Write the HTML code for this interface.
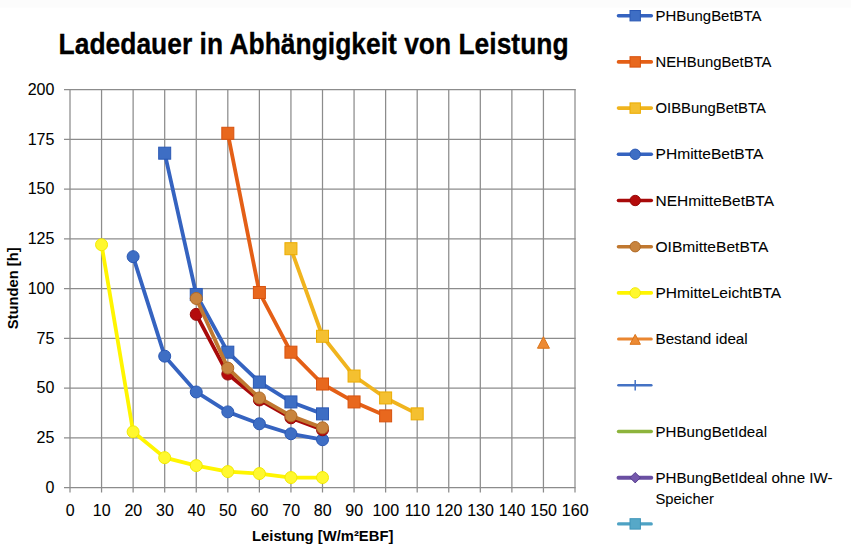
<!DOCTYPE html>
<html><head><meta charset="utf-8"><title>Ladedauer in Abhängigkeit von Leistung</title>
<style>html,body{margin:0;padding:0;background:#fff;width:851px;height:549px;overflow:hidden}svg{display:block;font-family:"Liberation Sans",sans-serif}</style>
</head><body>
<svg width="851" height="549" viewBox="0 0 851 549" font-family="'Liberation Sans', sans-serif">
<rect width="851" height="549" fill="#fff"/><rect width="851" height="7.5" fill="#fcfcfc"/>
<g stroke="#8c8c8c" stroke-width="1.25"><line x1="70.00" y1="88.90" x2="70.00" y2="492.50"/><line x1="101.56" y1="88.90" x2="101.56" y2="492.50"/><line x1="133.12" y1="88.90" x2="133.12" y2="492.50"/><line x1="164.69" y1="88.90" x2="164.69" y2="492.50"/><line x1="196.25" y1="88.90" x2="196.25" y2="492.50"/><line x1="227.81" y1="88.90" x2="227.81" y2="492.50"/><line x1="259.38" y1="88.90" x2="259.38" y2="492.50"/><line x1="290.94" y1="88.90" x2="290.94" y2="492.50"/><line x1="322.50" y1="88.90" x2="322.50" y2="492.50"/><line x1="354.06" y1="88.90" x2="354.06" y2="492.50"/><line x1="385.62" y1="88.90" x2="385.62" y2="492.50"/><line x1="417.19" y1="88.90" x2="417.19" y2="492.50"/><line x1="448.75" y1="88.90" x2="448.75" y2="492.50"/><line x1="480.31" y1="88.90" x2="480.31" y2="492.50"/><line x1="511.88" y1="88.90" x2="511.88" y2="492.50"/><line x1="543.44" y1="88.90" x2="543.44" y2="492.50"/><line x1="575.00" y1="88.90" x2="575.00" y2="492.50"/><line x1="64.00" y1="487.50" x2="575.60" y2="487.50"/><line x1="64.00" y1="437.75" x2="575.60" y2="437.75"/><line x1="64.00" y1="388.00" x2="575.60" y2="388.00"/><line x1="64.00" y1="338.25" x2="575.60" y2="338.25"/><line x1="64.00" y1="288.50" x2="575.60" y2="288.50"/><line x1="64.00" y1="238.75" x2="575.60" y2="238.75"/><line x1="64.00" y1="189.00" x2="575.60" y2="189.00"/><line x1="64.00" y1="139.25" x2="575.60" y2="139.25"/><line x1="64.00" y1="89.50" x2="575.60" y2="89.50"/></g>
<g font-size="16" fill="#000" stroke="#000" stroke-width="0.08"><text x="54.4" y="492.80" text-anchor="end">0</text><text x="54.4" y="443.05" text-anchor="end">25</text><text x="54.4" y="393.30" text-anchor="end">50</text><text x="54.4" y="343.55" text-anchor="end">75</text><text x="54.4" y="293.80" text-anchor="end">100</text><text x="54.4" y="244.05" text-anchor="end">125</text><text x="54.4" y="194.30" text-anchor="end">150</text><text x="54.4" y="144.55" text-anchor="end">175</text><text x="54.4" y="94.80" text-anchor="end">200</text><text x="70.20" y="515.6" text-anchor="middle">0</text><text x="101.76" y="515.6" text-anchor="middle">10</text><text x="133.32" y="515.6" text-anchor="middle">20</text><text x="164.89" y="515.6" text-anchor="middle">30</text><text x="196.45" y="515.6" text-anchor="middle">40</text><text x="228.01" y="515.6" text-anchor="middle">50</text><text x="259.57" y="515.6" text-anchor="middle">60</text><text x="291.14" y="515.6" text-anchor="middle">70</text><text x="322.70" y="515.6" text-anchor="middle">80</text><text x="354.26" y="515.6" text-anchor="middle">90</text><text x="385.82" y="515.6" text-anchor="middle">100</text><text x="417.39" y="515.6" text-anchor="middle">110</text><text x="448.95" y="515.6" text-anchor="middle">120</text><text x="480.51" y="515.6" text-anchor="middle">130</text><text x="512.08" y="515.6" text-anchor="middle">140</text><text x="543.64" y="515.6" text-anchor="middle">150</text><text x="575.20" y="515.6" text-anchor="middle">160</text></g>
<g><polyline points="164.69,153.18 196.25,294.47 227.81,352.18 259.38,382.03 290.94,401.93 322.50,413.87" fill="none" stroke="#3563c0" stroke-width="3.8" stroke-linejoin="round" stroke-linecap="round"/><rect x="158.69" y="147.18" width="12.00" height="12.00" fill="#3e6ec4" stroke="#2a58b4" stroke-width="1.0"/><rect x="190.25" y="288.47" width="12.00" height="12.00" fill="#3e6ec4" stroke="#2a58b4" stroke-width="1.0"/><rect x="221.81" y="346.18" width="12.00" height="12.00" fill="#3e6ec4" stroke="#2a58b4" stroke-width="1.0"/><rect x="253.38" y="376.03" width="12.00" height="12.00" fill="#3e6ec4" stroke="#2a58b4" stroke-width="1.0"/><rect x="284.94" y="395.93" width="12.00" height="12.00" fill="#3e6ec4" stroke="#2a58b4" stroke-width="1.0"/><rect x="316.50" y="407.87" width="12.00" height="12.00" fill="#3e6ec4" stroke="#2a58b4" stroke-width="1.0"/></g><g><polyline points="227.81,133.28 259.38,292.48 290.94,352.18 322.50,384.02 354.06,401.93 385.62,415.86" fill="none" stroke="#e45f16" stroke-width="3.8" stroke-linejoin="round" stroke-linecap="round"/><rect x="221.81" y="127.28" width="12.00" height="12.00" fill="#e8681e" stroke="#d8520e" stroke-width="1.0"/><rect x="253.38" y="286.48" width="12.00" height="12.00" fill="#e8681e" stroke="#d8520e" stroke-width="1.0"/><rect x="284.94" y="346.18" width="12.00" height="12.00" fill="#e8681e" stroke="#d8520e" stroke-width="1.0"/><rect x="316.50" y="378.02" width="12.00" height="12.00" fill="#e8681e" stroke="#d8520e" stroke-width="1.0"/><rect x="348.06" y="395.93" width="12.00" height="12.00" fill="#e8681e" stroke="#d8520e" stroke-width="1.0"/><rect x="379.62" y="409.86" width="12.00" height="12.00" fill="#e8681e" stroke="#d8520e" stroke-width="1.0"/></g><g><polyline points="290.94,248.70 322.50,336.26 354.06,376.06 385.62,397.95 417.19,413.87" fill="none" stroke="#f0b41e" stroke-width="3.8" stroke-linejoin="round" stroke-linecap="round"/><rect x="284.94" y="242.70" width="12.00" height="12.00" fill="#f4c030" stroke="#ecac00" stroke-width="1.0"/><rect x="316.50" y="330.26" width="12.00" height="12.00" fill="#f4c030" stroke="#ecac00" stroke-width="1.0"/><rect x="348.06" y="370.06" width="12.00" height="12.00" fill="#f4c030" stroke="#ecac00" stroke-width="1.0"/><rect x="379.62" y="391.95" width="12.00" height="12.00" fill="#f4c030" stroke="#ecac00" stroke-width="1.0"/><rect x="411.19" y="407.87" width="12.00" height="12.00" fill="#f4c030" stroke="#ecac00" stroke-width="1.0"/></g><g><polyline points="133.12,256.66 164.69,356.16 196.25,391.98 227.81,411.88 259.38,423.82 290.94,433.77 322.50,439.74" fill="none" stroke="#3563c0" stroke-width="3.8" stroke-linejoin="round" stroke-linecap="round"/><circle cx="133.12" cy="256.66" r="6.00" fill="#3e6ec4" stroke="#2a58b4" stroke-width="1.0"/><circle cx="164.69" cy="356.16" r="6.00" fill="#3e6ec4" stroke="#2a58b4" stroke-width="1.0"/><circle cx="196.25" cy="391.98" r="6.00" fill="#3e6ec4" stroke="#2a58b4" stroke-width="1.0"/><circle cx="227.81" cy="411.88" r="6.00" fill="#3e6ec4" stroke="#2a58b4" stroke-width="1.0"/><circle cx="259.38" cy="423.82" r="6.00" fill="#3e6ec4" stroke="#2a58b4" stroke-width="1.0"/><circle cx="290.94" cy="433.77" r="6.00" fill="#3e6ec4" stroke="#2a58b4" stroke-width="1.0"/><circle cx="322.50" cy="439.74" r="6.00" fill="#3e6ec4" stroke="#2a58b4" stroke-width="1.0"/></g><g><polyline points="196.25,314.37 227.81,374.07 259.38,399.94 290.94,417.85 322.50,429.79" fill="none" stroke="#a80a0a" stroke-width="3.8" stroke-linejoin="round" stroke-linecap="round"/><circle cx="196.25" cy="314.37" r="6.00" fill="#b40c0c" stroke="#960808" stroke-width="1.0"/><circle cx="227.81" cy="374.07" r="6.00" fill="#b40c0c" stroke="#960808" stroke-width="1.0"/><circle cx="259.38" cy="399.94" r="6.00" fill="#b40c0c" stroke="#960808" stroke-width="1.0"/><circle cx="290.94" cy="417.85" r="6.00" fill="#b40c0c" stroke="#960808" stroke-width="1.0"/><circle cx="322.50" cy="429.79" r="6.00" fill="#b40c0c" stroke="#960808" stroke-width="1.0"/></g><g><polyline points="196.25,298.45 227.81,368.10 259.38,397.95 290.94,415.86 322.50,427.80" fill="none" stroke="#c07830" stroke-width="3.8" stroke-linejoin="round" stroke-linecap="round"/><circle cx="196.25" cy="298.45" r="6.00" fill="#c8843e" stroke="#b06a26" stroke-width="1.0"/><circle cx="227.81" cy="368.10" r="6.00" fill="#c8843e" stroke="#b06a26" stroke-width="1.0"/><circle cx="259.38" cy="397.95" r="6.00" fill="#c8843e" stroke="#b06a26" stroke-width="1.0"/><circle cx="290.94" cy="415.86" r="6.00" fill="#c8843e" stroke="#b06a26" stroke-width="1.0"/><circle cx="322.50" cy="427.80" r="6.00" fill="#c8843e" stroke="#b06a26" stroke-width="1.0"/></g><g><polyline points="101.56,244.72 133.12,431.78 164.69,457.65 196.25,465.61 227.81,471.58 259.38,473.57 290.94,477.55 322.50,477.55" fill="none" stroke="#fff500" stroke-width="3.8" stroke-linejoin="round" stroke-linecap="round"/><circle cx="101.56" cy="244.72" r="6.00" fill="#fff82e" stroke="#f2ea00" stroke-width="1.0"/><circle cx="133.12" cy="431.78" r="6.00" fill="#fff82e" stroke="#f2ea00" stroke-width="1.0"/><circle cx="164.69" cy="457.65" r="6.00" fill="#fff82e" stroke="#f2ea00" stroke-width="1.0"/><circle cx="196.25" cy="465.61" r="6.00" fill="#fff82e" stroke="#f2ea00" stroke-width="1.0"/><circle cx="227.81" cy="471.58" r="6.00" fill="#fff82e" stroke="#f2ea00" stroke-width="1.0"/><circle cx="259.38" cy="473.57" r="6.00" fill="#fff82e" stroke="#f2ea00" stroke-width="1.0"/><circle cx="290.94" cy="477.55" r="6.00" fill="#fff82e" stroke="#f2ea00" stroke-width="1.0"/><circle cx="322.50" cy="477.55" r="6.00" fill="#fff82e" stroke="#f2ea00" stroke-width="1.0"/></g><g><path d="M543.44 336.73 L549.44 348.23 L537.44 348.23Z" fill="#ec8a34" stroke="#dc7418" stroke-width="1.0" stroke-linejoin="round"/></g>
<text x="58.6" y="53.6" font-size="29" font-weight="bold" stroke="#000" stroke-width="0.3" textLength="510" lengthAdjust="spacingAndGlyphs">Ladedauer in Abh&#228;ngigkeit von Leistung</text>
<text x="252" y="540.6" font-size="15" font-weight="bold" textLength="141.4" lengthAdjust="spacingAndGlyphs">Leistung [W/m&#178;EBF]</text>
<text transform="translate(18 329.3) rotate(-90)" x="0" y="0" font-size="15" font-weight="bold" textLength="82" lengthAdjust="spacingAndGlyphs">Stunden [h]</text>
<g><line x1="618.5" y1="15.70" x2="651.3" y2="15.70" stroke="#3563c0" stroke-width="3.6" stroke-linecap="round"/><rect x="630.00" y="10.50" width="10.40" height="10.40" fill="#3e6ec4" stroke="#2a58b4" stroke-width="1.0"/><line x1="618.5" y1="61.90" x2="651.3" y2="61.90" stroke="#e45f16" stroke-width="3.6" stroke-linecap="round"/><rect x="630.00" y="56.70" width="10.40" height="10.40" fill="#e8681e" stroke="#d8520e" stroke-width="1.0"/><line x1="618.5" y1="108.10" x2="651.3" y2="108.10" stroke="#f0b41e" stroke-width="3.6" stroke-linecap="round"/><rect x="630.00" y="102.90" width="10.40" height="10.40" fill="#f4c030" stroke="#ecac00" stroke-width="1.0"/><line x1="618.5" y1="154.30" x2="651.3" y2="154.30" stroke="#3563c0" stroke-width="3.6" stroke-linecap="round"/><circle cx="635.20" cy="154.30" r="5.20" fill="#3e6ec4" stroke="#2a58b4" stroke-width="1.0"/><line x1="618.5" y1="200.50" x2="651.3" y2="200.50" stroke="#a80a0a" stroke-width="3.6" stroke-linecap="round"/><circle cx="635.20" cy="200.50" r="5.20" fill="#b40c0c" stroke="#960808" stroke-width="1.0"/><line x1="618.5" y1="246.70" x2="651.3" y2="246.70" stroke="#c07830" stroke-width="3.6" stroke-linecap="round"/><circle cx="635.20" cy="246.70" r="5.20" fill="#c8843e" stroke="#b06a26" stroke-width="1.0"/><line x1="618.5" y1="292.90" x2="651.3" y2="292.90" stroke="#fff500" stroke-width="3.6" stroke-linecap="round"/><circle cx="635.20" cy="292.90" r="5.20" fill="#fff82e" stroke="#f2ea00" stroke-width="1.0"/><line x1="618.5" y1="339.10" x2="651.3" y2="339.10" stroke="#ea8630" stroke-width="3.0" stroke-linecap="round"/><path d="M635.20 334.40 L640.40 344.30 L630.00 344.30Z" fill="#ec8a34" stroke="#dc7418" stroke-width="1.0" stroke-linejoin="round"/><line x1="618.5" y1="385.30" x2="651.3" y2="385.30" stroke="#4472c4" stroke-width="2.6" stroke-linecap="round"/><line x1="635.2" y1="380.00" x2="635.2" y2="390.60" stroke="#4472c4" stroke-width="1.5"/><line x1="618.5" y1="431.50" x2="651.3" y2="431.50" stroke="#8db43c" stroke-width="3.4" stroke-linecap="round"/><line x1="618.5" y1="477.70" x2="651.3" y2="477.70" stroke="#6a4fa2" stroke-width="3.9" stroke-linecap="round"/><path d="M635.20 472.50 L640.40 477.70 L635.20 482.90 L630.00 477.70Z" fill="#7558ac" stroke="#553c8c" stroke-width="1.0"/><line x1="618.5" y1="523.90" x2="651.3" y2="523.90" stroke="#4ea2c4" stroke-width="3.1" stroke-linecap="round"/><rect x="630.00" y="518.70" width="10.40" height="10.40" fill="#56a8c8" stroke="#3e94b8" stroke-width="1.0"/></g><g font-size="15" fill="#000" stroke="#000" stroke-width="0.08"><text x="655.5" y="20.70" textLength="106" lengthAdjust="spacingAndGlyphs">PHBungBetBTA</text><text x="655.5" y="66.90" textLength="116" lengthAdjust="spacingAndGlyphs">NEHBungBetBTA</text><text x="655.5" y="113.10" textLength="110.4" lengthAdjust="spacingAndGlyphs">OIBBungBetBTA</text><text x="655.5" y="159.30" textLength="108" lengthAdjust="spacingAndGlyphs">PHmitteBetBTA</text><text x="655.5" y="205.50" textLength="118.5" lengthAdjust="spacingAndGlyphs">NEHmitteBetBTA</text><text x="655.5" y="251.70" textLength="113" lengthAdjust="spacingAndGlyphs">OIBmitteBetBTA</text><text x="655.5" y="297.90" textLength="125.7" lengthAdjust="spacingAndGlyphs">PHmitteLeichtBTA</text><text x="655.5" y="344.10" textLength="92.2" lengthAdjust="spacingAndGlyphs">Bestand ideal</text><text x="655.5" y="436.50" textLength="111.5" lengthAdjust="spacingAndGlyphs">PHBungBetIdeal</text><text x="655.5" y="482.70" textLength="177" lengthAdjust="spacingAndGlyphs">PHBungBetIdeal ohne IW-</text><text x="655.5" y="503.70" textLength="58.3" lengthAdjust="spacingAndGlyphs">Speicher</text></g>
</svg>
</body></html>
